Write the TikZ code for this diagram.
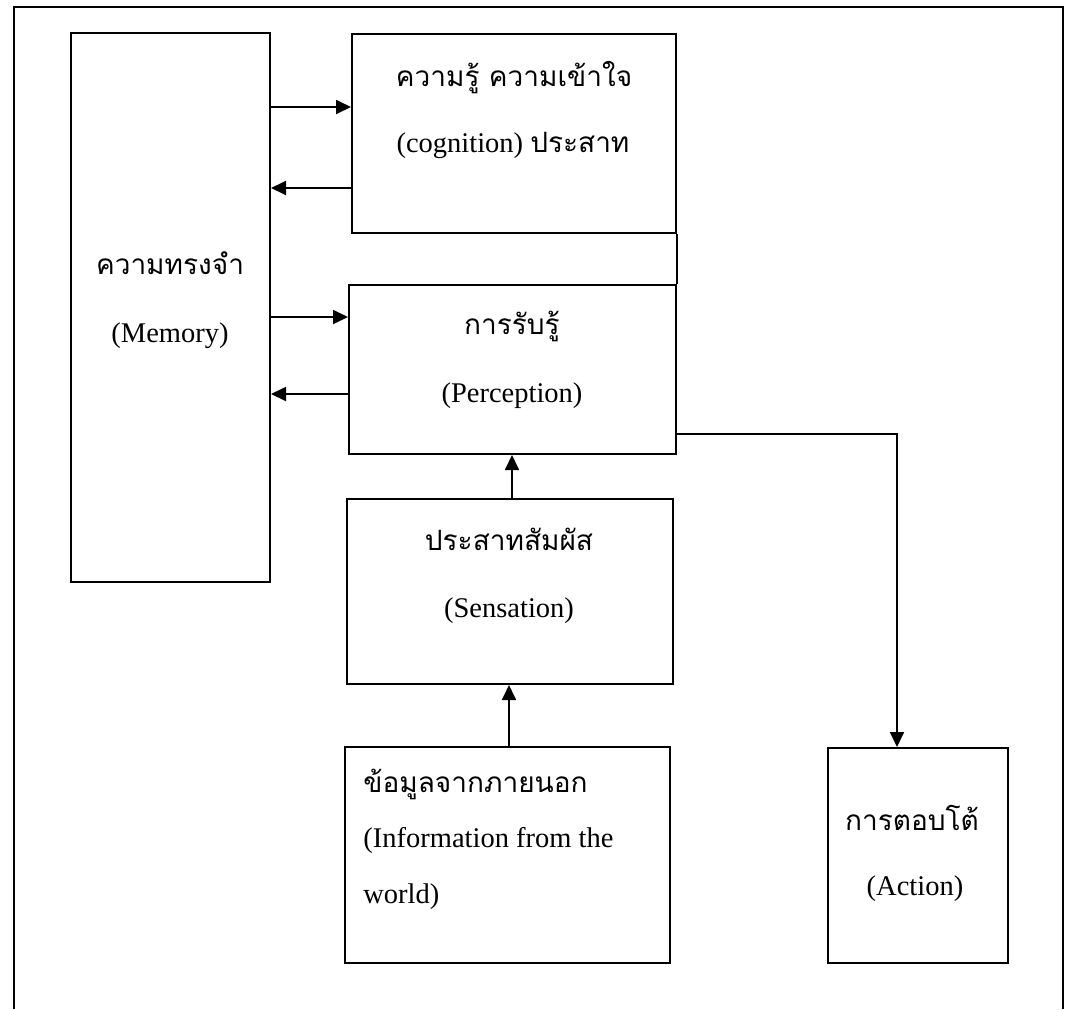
\documentclass[tikz,border=0pt]{standalone}
\usepackage{fontspec}
\setmainfont{Liberation Serif}
\newfontfamily\thaifont[Script=Thai]{Loma}
\newcommand{\thaitxt}[1]{{\thaifont\fontsize{14}{17}\selectfont #1}}
\usetikzlibrary{arrows.meta}

\begin{document}
\begin{tikzpicture}
     [
     x=0.5pt, y=-0.5pt,
     box/.style={rectangle, draw=black, line width=1pt, fill=white, inner sep=0pt},
     thline/.style={anchor=base, inner sep=0pt, font=\thaifont\fontsize{14}{17}\selectfont},
     enline/.style={anchor=base, inner sep=0pt, font=\fontsize{14.25}{17}\selectfont},
     arr/.style={line width=0.9pt, -{Triangle[length=7.5pt,width=7pt]}},
     ]
  \useasboundingbox (0,0) rectangle (1073,1009);
  \draw[line width=1pt] (14,1009) -- (14,7) -- (1063,7) -- (1063,1009);
 \node at (170.5,307.5) [box, minimum width=99.5pt, minimum height=274.5pt] (mem) {};
 \node at (514,133.5) [box, minimum width=162pt, minimum height=99.5pt] (cog) {};
 \node at (512.5,369.5) [box, minimum width=163.5pt, minimum height=84.5pt] (perc) {};
 \node at (510,591.5) [box, minimum width=163pt, minimum height=92.5pt] (sens) {};
 \node at (507.5,855) [box, minimum width=162.5pt, minimum height=108pt] (info) {};
 \node at (918,855.5) [box, minimum width=90pt, minimum height=107.5pt] (act) {};
 \node at (170,274) [thline] (memth) {ความทรงจำ};
 \node at (170,342) [enline] (memen) {(Memory)};
 \node at (514,86) [thline] (cogth) {ความรู้ ความเข้าใจ};
 \node at (513,152) [enline] (cogen) {(cognition) \thaitxt{ประสาท}};
 \node at (512,334) [thline] (percth) {การรับรู้};
 \node at (512,402) [enline] (percen) {(Perception)};
 \node at (509,550) [thline] (sensth) {ประสาทสัมผัส};
 \node at (509,617) [enline] (sensen) {(Sensation)};
 \node at (363,792) [thline, anchor=base west] (infoth) {ข้อมูลจากภายนอก};
 \node at (363,847) [enline, anchor=base west] (infoen) {(Information from the};
 \node at (363,903) [enline, anchor=base west] (infoen2) {world)};
 \node at (912,830) [thline] (actth) {การตอบโต้};
 \node at (915,895) [enline] (acten) {(Action)};
 \draw[line width=1pt] (cog.south east) -- (perc.north east);
 \draw[arr] (mem.east |- 0,107) -- (cog.west |- 0,107);
 \draw[arr] (cog.west |- 0,188) -- (mem.east |- 0,188);
 \draw[arr] (mem.east |- 0,317) -- (perc.west |- 0,317);
 \draw[arr] (perc.west |- 0,394) -- (mem.east |- 0,394);
 \draw[arr] (sens.north -| 512,0) -- (perc.south -| 512,0);
 \draw[arr] (info.north -| 509,0) -- (sens.south -| 509,0);
 \draw[arr] (perc.east |- 0,434) -| (act.north -| 897,0);
 \end{tikzpicture}
\end{document}
